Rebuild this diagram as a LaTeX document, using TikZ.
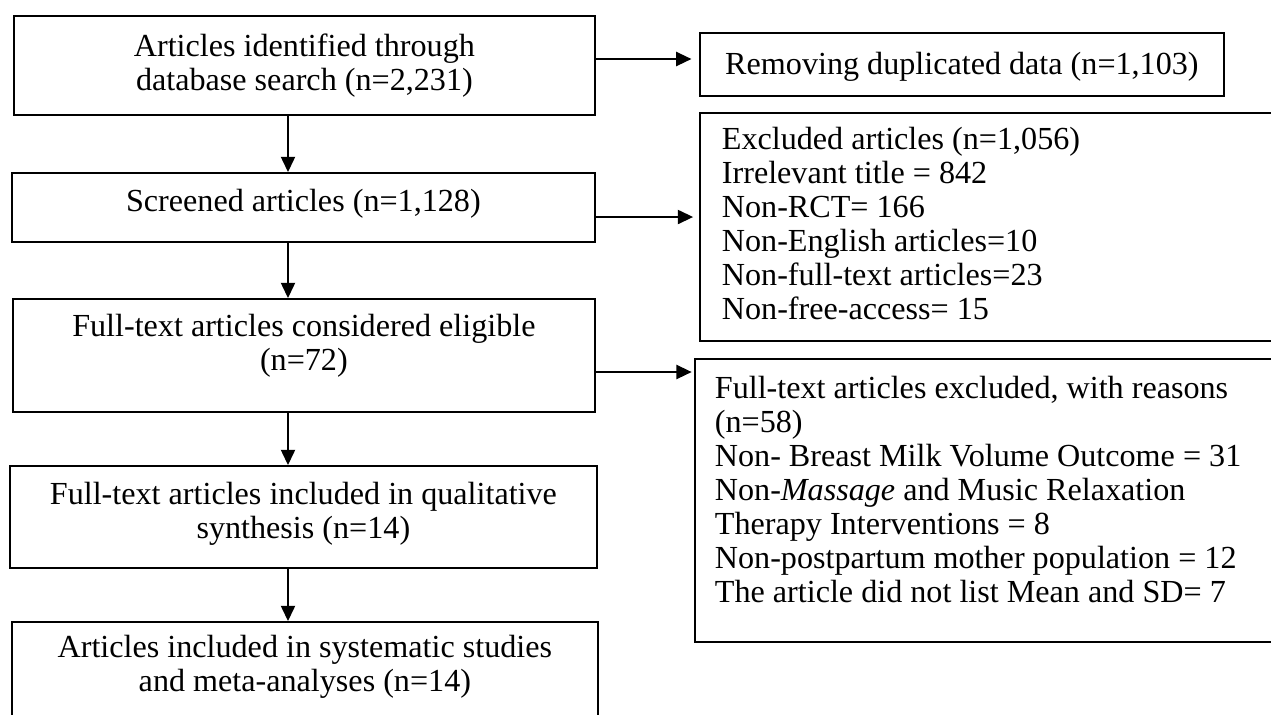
\documentclass[tikz,border=0pt]{standalone}
\usepackage{fontspec}
\setmainfont{Liberation Serif}
\usetikzlibrary{arrows.meta}

\newlength{\px}
\setlength{\px}{0.42pt}
% width, height, first baseline, text
\newcommand{\boxtext}[4]{\parbox[t][#2\px][t]{#1\px}{\rule{0pt}{#3\px}#4}}

\begin{document}
\begin{tikzpicture}[x=0.42pt, y=-0.42pt,
    flowbox/.style={draw, line width=0.75pt, inner sep=0pt, anchor=north west,
      font=\fontsize{13.5pt}{34\px}\selectfont},
    arr/.style={-{Triangle[length=6.4pt, width=6pt]}, line width=0.55pt}]
  \useasboundingbox (0,0) rectangle (1271,714);
  \clip (0,0) rectangle (1271,714);

  % main column
  \node[flowbox] (ident) at (13,15)
    {\boxtext{581}{99}{41}{\centering Articles identified through\\database search (n=2,231)}};
  \node[flowbox] (screen) at (11,172)
    {\boxtext{583}{69}{39}{\centering Screened articles (n=1,128)}};
  \node[flowbox] (elig) at (12,298)
    {\boxtext{582}{113}{38}{\centering Full-text articles considered eligible\\(n=72)}};
  \node[flowbox] (qual) at (9,465)
    {\boxtext{587}{102}{39}{\centering Full-text articles included in qualitative\\synthesis (n=14)}};
  \node[flowbox] (meta) at (11,621)
    {\boxtext{586}{140}{36}{\centering Articles included in systematic studies\\and meta-analyses (n=14)}};

  % side column
  \node[flowbox] (dup) at (699,32)
    {\boxtext{524}{63}{42}{\centering Removing duplicated data (n=1,103)}};
  \node[flowbox, inner xsep=22\px] (excl) at (699,112)
    {\boxtext{556}{228}{37}{\raggedright Excluded articles (n=1,056)\\
      Irrelevant title = 842\\
      Non-RCT= 166\\
      Non-English articles=10\\
      Non-full-text articles=23\\
      Non-free-access= 15}};
  \node[flowbox, inner xsep=20\px] (fullexcl) at (694,358)
    {\boxtext{560}{283}{40}{\raggedright Full-text articles excluded, with reasons\\
      (n=58)\\
      Non- Breast Milk Volume Outcome = 31\\
      Non-\textit{Massage} and Music Relaxation\\
      Therapy Interventions = 8\\
      Non-postpartum mother population = 12\\
      The article did not list Mean and SD= 7}};

  % connectors
  \coordinate (spine) at (288,0);
  \coordinate (rowA) at (0,59);
  \coordinate (rowB) at (0,217);
  \coordinate (rowC) at (0,372);
  \draw[arr] (ident.south -| spine) -- (screen.north -| spine);
  \draw[arr] (screen.south -| spine) -- (elig.north -| spine);
  \draw[arr] (elig.south -| spine) -- (qual.north -| spine);
  \draw[arr] (qual.south -| spine) -- (meta.north -| spine);
  \draw[arr, shorten >=3.2pt] (ident.east |- rowA) -- (dup.west |- rowA);
  \draw[arr, shorten >=2.5pt] (screen.east |- rowB) -- (excl.west |- rowB);
  \draw[arr, shorten >=1pt] (elig.east |- rowC) -- (fullexcl.west |- rowC);
\end{tikzpicture}
\end{document}
